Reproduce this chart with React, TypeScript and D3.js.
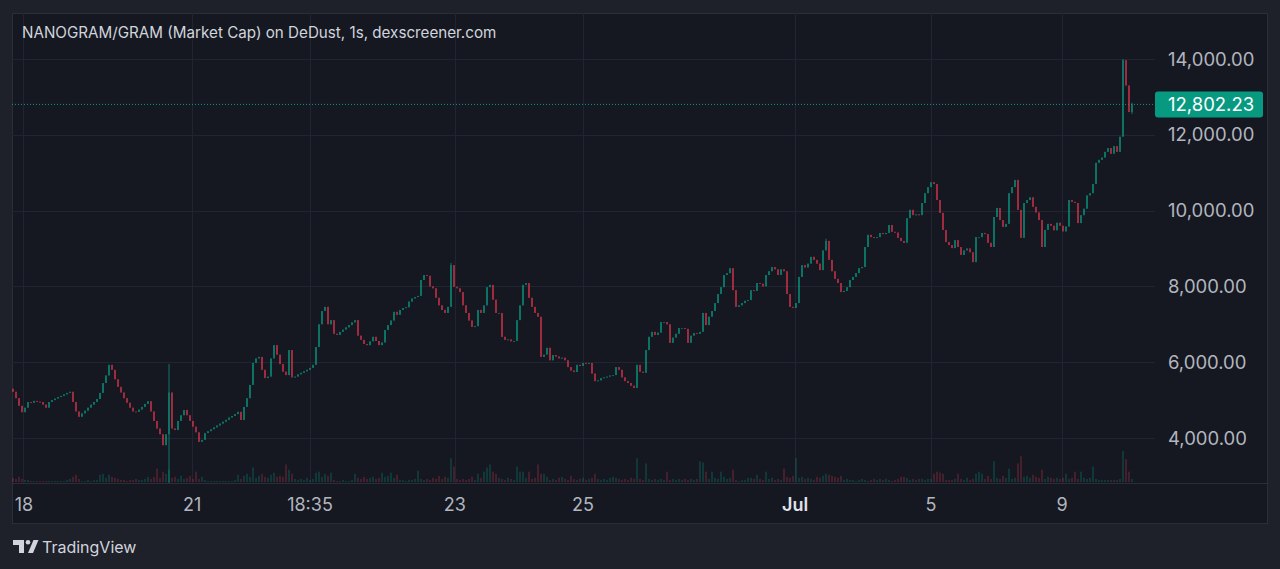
import React from 'react';
import * as d3 from 'd3';

// Close prices, one candle each, read left to right from the picture
const closes: number[] = [
  5220, 5050, 4850, 4680, 4800, 4950, 4930, 4980, 4960, 4950,
  4880, 4800, 4950, 5000, 5040, 5080, 5110, 5150, 5190, 5220,
  4950, 4700, 4560, 4650, 4720, 4800, 4880, 4950, 5030, 5190,
  5450, 5650, 5930, 5800, 5550, 5350, 5200, 5050, 4930, 4800,
  4700, 4690, 4750, 4820, 4900, 4970, 4700, 4450, 4250, 4100,
  3810, 4100, 5200, 4250, 4210, 4450, 4600, 4740, 4600, 4450,
  4300, 4150, 3900, 3950, 4130, 4180, 4230, 4280, 4330, 4380,
  4430, 4480, 4540, 4580, 4630, 4690, 4475, 4820, 5050, 5400,
  5980, 6100, 6140, 5800, 5580, 5620, 6100, 6450, 6200, 5950,
  5750, 5660, 6320, 5600, 5620, 5680, 5720, 5760, 5800, 5850,
  5930, 6400, 7000, 7350, 7460, 7000, 7110, 6750, 6720, 6800,
  6860, 6920, 6980, 7050, 7110, 6700, 6590, 6480, 6450, 6550,
  6670, 6560, 6450, 6520, 6850, 6980, 7100, 7330, 7250, 7380,
  7430, 7450, 7600, 7680, 7720, 7750, 8170, 8300, 8280, 8000,
  7950, 7700, 7500, 7380, 7300, 7460, 8560, 7990, 7950, 7850,
  7500, 7300, 7100, 6930, 6950, 7380, 7300, 7500, 7980, 8040,
  7650, 7300, 7300, 6670, 6590, 6600, 6550, 6560, 7110, 7500,
  8040, 8090, 7700, 7460, 7300, 7200, 6140, 6200, 6380, 6050,
  6190, 6150, 6100, 6120, 6050, 5870, 5780, 5740, 5930, 5900,
  5980, 5960, 5980, 5700, 5500, 5520, 5580, 5600, 5620, 5650,
  5660, 5870, 5800, 5600, 5500, 5450, 5380, 5320, 5930, 5750,
  5720, 6320, 6670, 6800, 6720, 6780, 7060, 7060, 7000, 6510,
  6650, 6750, 6900, 6900, 6880, 6510, 6700, 6770, 6750, 6800,
  7300, 6980, 7200, 7350, 7560, 7800, 7980, 8300, 8350, 8480,
  7900, 7460, 7500, 7560, 7620, 7640, 7900, 7880, 8090, 8070,
  8000, 8300, 8400, 8510, 8450, 8300, 8450, 8400, 7800, 7460,
  7430, 7560, 8250, 8560, 8500, 8600, 8780, 8700, 8600, 8430,
  8950, 9200, 8700, 8400, 8200, 8090, 7850, 7880, 7980, 8170,
  8250, 8350, 8480, 8510, 9040, 9360, 9300, 9280, 9300, 9410,
  9380, 9410, 9620, 9440, 9420, 9280, 9200, 9150, 9800, 10020,
  9880, 9900, 9880, 10200, 10460, 10620, 10750, 10700, 10280, 9940,
  9490, 9170, 9090, 9010, 9220, 9040, 8830, 8950, 9000, 8900,
  8640, 9300, 9300, 9410, 9380, 9150, 9040, 9830, 10070, 9750,
  9570, 9650, 10460, 10620, 10810, 10020, 9280, 10200, 10280, 10350,
  10100, 9950, 9750, 9040, 9490, 9650, 9600, 9480, 9680, 9600,
  9450, 9580, 10280, 10230, 10200, 9670, 9880, 10050, 10400, 10460,
  10700, 11260, 11340, 11400, 11550, 11650, 11500, 11700, 11550, 11950,
  13970, 13300, 12600, 12802.23,
];

// Volume per candle (relative units)
const volumes: number[] = [
  4, 3, 5, 3, 2, 2, 1, 1, 1, 1,
  1, 1, 1, 1, 1, 1, 1, 1, 2, 3,
  5, 7, 3, 1, 1, 2, 1, 2, 2, 7,
  8, 4, 7, 5, 4, 3, 2, 2, 1, 2,
  2, 3, 2, 2, 3, 5, 3, 5, 13, 4,
  10, 8, 12, 4, 5, 3, 6, 3, 4, 6,
  3, 10, 3, 5, 2, 1, 1, 1, 1, 1,
  1, 1, 1, 1, 2, 7, 3, 6, 8, 5,
  14, 4, 6, 8, 5, 4, 7, 9, 5, 6,
  5, 17, 12, 8, 3, 2, 3, 2, 4, 2,
  3, 9, 10, 5, 8, 6, 9, 2, 1, 1,
  2, 1, 1, 2, 8, 4, 3, 5, 3, 4,
  5, 3, 4, 9, 5, 6, 9, 4, 7, 2,
  2, 1, 2, 2, 3, 11, 3, 2, 3, 2,
  4, 3, 6, 3, 5, 4, 23, 15, 3, 2,
  3, 2, 3, 5, 2, 8, 4, 10, 14, 17,
  10, 8, 4, 3, 2, 4, 3, 2, 15, 10,
  10, 4, 10, 3, 4, 17, 8, 8, 5, 2,
  3, 2, 4, 5, 3, 2, 6, 3, 2, 3,
  4, 2, 3, 4, 8, 3, 2, 3, 2, 4,
  5, 4, 3, 2, 3, 2, 4, 3, 23, 3,
  2, 18, 3, 2, 3, 2, 3, 2, 10, 2,
  3, 2, 3, 2, 3, 2, 3, 2, 3, 20,
  19, 10, 3, 10, 4, 3, 10, 5, 3, 4,
  12, 2, 1, 2, 2, 4, 4, 3, 7, 3,
  2, 10, 3, 4, 2, 3, 2, 13, 5, 4,
  6, 23, 4, 5, 3, 4, 3, 2, 5, 4,
  6, 8, 7, 6, 5, 4, 6, 2, 3, 2,
  2, 1, 2, 3, 2, 1, 2, 3, 2, 3,
  2, 3, 2, 1, 2, 3, 5, 5, 4, 2,
  3, 2, 3, 3, 2, 3, 3, 8, 10, 9,
  8, 2, 2, 2, 3, 8, 3, 2, 4, 2,
  3, 8, 10, 8, 3, 6, 3, 20, 4, 3,
  6, 4, 13, 3, 4, 18, 25, 5, 6, 4,
  7, 5, 4, 12, 3, 5, 4, 3, 4, 3,
  4, 8, 3, 4, 10, 3, 10, 4, 3, 4,
  15, 3, 2, 2, 2, 2, 2, 2, 2, 3,
  30, 22, 10, 3,
];

const firstOpen = 5300;
// Candles with visible extra wicks
const wickIdx: number[] = [52, 146, 271, 370, 373];
const wickHigh: number[] = [5950, 8620, 9260, 14000, 12850];
const wickLow: number[] = [2500, 7460, 8950, 11950, 12550];

const priceTicks: number[] = [4000, 6000, 8000, 10000, 12000, 14000];
const timeLabels: string[] = ['18', '21', '18:35', '23', '25', 'Jul', '5', '9'];
const timeLabelIdx: number[] = [3.3, 59.7, 99, 147.3, 190, 260.7, 306, 349.7];
const lastPrice = 12802.23;
const title = 'NANOGRAM/GRAM (Market Cap) on DeDust, 1s, dexscreener.com';

const UP = '#0b9c84';
const DOWN = '#e0384f';
const FONT = "Inter, 'Noto Sans', 'DejaVu Sans', sans-serif";

export default function App() {
  const W = 1280;
  const H = 569;
  const paneL = 12, paneT = 13, paneR = 1267, paneB = 523;
  const plotR = 1155, plotB = 483;
  const N = closes.length;
  const x = d3.scaleLinear().domain([0, N - 1]).range([13, 1132]);
  const y = d3.scaleLinear().domain([4000, 14000]).range([438, 59]);
  const v = d3.scaleLinear().domain([0, 30]).range([482, 451]);
  const fmt = d3.format(',.2f');

  const candles = closes.map((c, i) => {
    const o = i === 0 ? firstOpen : closes[i - 1];
    const k = wickIdx.indexOf(i);
    const hi = Math.max(o, c, k >= 0 ? wickHigh[k] : -Infinity);
    const lo = Math.min(o, c, k >= 0 ? wickLow[k] : Infinity);
    return { i, o, c, hi, lo, up: c >= o };
  });

  const bw = 1.2;

  return (
    <div style={{ position: 'fixed', left: 0, top: 0, width: W, height: H }}>
      <svg width={W} height={H} style={{ display: 'block' }} fontFamily={FONT}>
        <defs>
          <clipPath id="plotClip">
            <rect x={paneL} y={paneT} width={plotR - paneL} height={plotB - paneT} />
          </clipPath>
        </defs>
        <rect x={0} y={0} width={W} height={H} fill="#1e212a" />
        <rect x={paneL + 0.5} y={paneT + 0.5} width={paneR - paneL} height={paneB - paneT} fill="#151821" stroke="#2a2e39" />

        {/* grid */}
        {priceTicks.map((p) => (
          <line key={'h' + p} x1={paneL} x2={plotR} y1={Math.round(y(p)) + 0.5} y2={Math.round(y(p)) + 0.5} stroke="#222531" />
        ))}
        {timeLabelIdx.map((t, k) => (
          <line key={'v' + k} x1={Math.round(x(t)) + 0.5} x2={Math.round(x(t)) + 0.5} y1={paneT} y2={plotB} stroke="#222531" />
        ))}
        <line x1={paneL} x2={paneR} y1={plotB + 0.5} y2={plotB + 0.5} stroke="#2a2e39" />

        <g clipPath="url(#plotClip)">
          {/* volume */}
          {candles.map((d) => (
            <rect key={'vol' + d.i} x={x(d.i) - bw / 2} y={v(volumes[d.i])} width={bw} height={v(0) - v(volumes[d.i])}
              fill={d.up ? UP : DOWN} opacity={0.4} />
          ))}
          {/* last price line */}
          <line x1={paneL} x2={plotR} y1={y(lastPrice)} y2={y(lastPrice)} stroke={UP} strokeDasharray="1 2" strokeWidth={1} />
          {/* candles */}
          {candles.map((d) => {
            const col = d.up ? UP : DOWN;
            const top = y(Math.max(d.o, d.c));
            const bot = y(Math.min(d.o, d.c));
            return (
              <g key={'c' + d.i} opacity={0.9}>
                <line x1={x(d.i)} x2={x(d.i)} y1={y(d.hi)} y2={y(d.lo)} stroke={col} strokeWidth={0.8} />
                <rect x={x(d.i) - bw / 2} y={top} width={bw} height={Math.max(1, bot - top)} fill={col} />
              </g>
            );
          })}
        </g>

        {/* title */}
        <text x={22} y={38} fill="#d1d4dc" fontSize={15.2}>{title}</text>

        {/* price axis */}
        {priceTicks.map((p) => (
          <text key={'pt' + p} x={1168} y={y(p) + 6.5} fill="#b2b5be" fontSize={18.5}>{fmt(p)}</text>
        ))}
        <rect x={1155} y={y(lastPrice) - 13} width={108} height={26} rx={3} fill="#089981" />
        <text x={1168} y={y(lastPrice) + 6.5} fill="#ffffff" fontSize={18.5}>{fmt(lastPrice)}</text>

        {/* time axis */}
        {timeLabels.map((t, k) => (
          <text key={'tl' + k} x={Math.max(x(timeLabelIdx[k]), 24)} y={511} textAnchor="middle"
            fill={t === 'Jul' ? '#e0e3eb' : '#b2b5be'} fontWeight={t === 'Jul' ? 600 : 400} fontSize={18}>{t}</text>
        ))}

        {/* TradingView logo */}
        <g fill="#d1d4dc">
          <path d="M13 540 H24 V553 H19 V545 H13 Z" />
          <circle cx={28} cy={542.3} r={2.3} />
          <path d="M33.5 540 H38.5 L33 553 H28 Z" />
        </g>
        <text x={42} y={553} fill="#d1d4dc" fontSize={16}>TradingView</text>
      </svg>
    </div>
  );
}
